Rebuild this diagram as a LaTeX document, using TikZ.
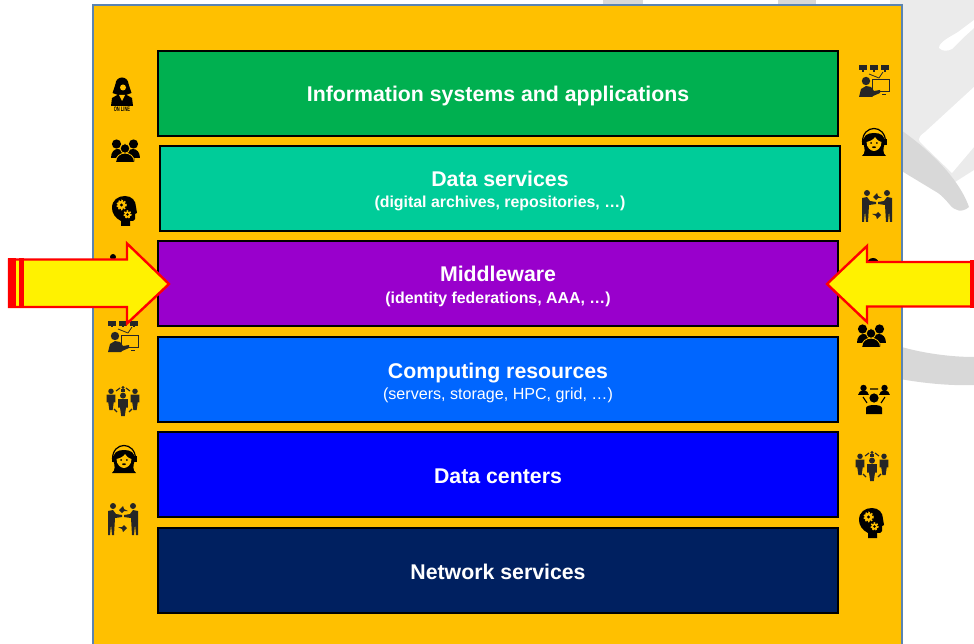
\documentclass[tikz,border=0pt]{standalone}
\usepackage{fontspec}
\setmainfont{Liberation Sans}
\definecolor{amber}{HTML}{FFC000}
\definecolor{framecol}{HTML}{5B84B1}
\definecolor{lightback}{HTML}{EBEBEB}
\definecolor{darkback}{HTML}{D8D8D8}
\definecolor{icongrey}{HTML}{262626}
\tikzset{
  layerbox/.style={draw=black,line width=1.4pt,minimum width=680pt,minimum height=85pt,inner sep=0pt},
  titletext/.style={anchor=base,inner sep=0pt,text=white,font=\fontsize{21.3}{23}\selectfont\bfseries},
  subbold/.style={anchor=base,inner sep=0pt,text=white,font=\fontsize{15.9}{18}\selectfont\bfseries},
  subplain/.style={anchor=base,inner sep=0pt,text=white,font=\fontsize{16.1}{18}\selectfont},
  arrowbox/.style={draw=red,fill=yellow,line width=2.4pt,miter limit=10},
  gear/.pic={
    \fill [amber] (0,0) circle [radius=4.2];
    \draw [amber,line width=1.5pt,dash pattern=on 1.5pt off 1.5pt] (0,0) circle [radius=4.6];
    \fill [black] (0,0) circle [radius=1.7];
  },
  online/.pic={
    \fill (0,-12) circle [radius=6.5];
    \fill (-6.5,-12) -- (-9.5,-3) -- (-4,-1) -- (4,-1) -- (9.5,-3) -- (6.5,-12) -- cycle;
    \fill [amber] (1,-8.5) circle [radius=3];
    \fill (-11,10) -- (-10,2) -- (-3,-2) -- (3,-2) -- (10,2) -- (11,10) -- cycle;
    \fill [amber] (-3,-1) -- (0,5) -- (3,-1) -- cycle;
    \node (onlinetext) at (0,13.5) [inner sep=0pt] {\scalebox{0.62}[1]{\fontsize{6.5}{6.5}\selectfont\bfseries ON LINE}};
  },
  group/.pic={
    \fill (-8.5,-7) circle [radius=4.6];
    \fill (8.5,-7) circle [radius=4.6];
    \fill (-14.5,7) .. controls (-14.5,-5) and (-1,-5) .. (-1,7) -- cycle;
    \fill (14.5,7) .. controls (14.5,-5) and (1,-5) .. (1,7) -- cycle;
    \draw [amber,line width=0.8pt,fill=black] (0,-2.5) circle [radius=4.8];
    \draw [amber,line width=0.8pt,fill=black] (-9.5,11.5) .. controls (-9.5,-1) and (9.5,-1) .. (9.5,11.5) -- cycle;
  },
  brain/.pic={
    \fill (-3,15) -- (-3,10) .. controls (-9,7) and (-12,2) .. (-12,-3)
      .. controls (-12,-11) and (-6,-15) .. (1,-15)
      .. controls (8,-15) and (12,-10) .. (12,-4) -- (13,2) -- (11,3) -- (11,8)
      .. controls (11,10) and (8,10) .. (6,10) -- (6,15) -- cycle;
    \pic at (-2.5,-6) {gear};
    \pic at (3.5,3.5) [scale=0.75] {gear};
  },
  presenter/.pic={
    \foreach \mx in {-11,0,11}{
      \fill [icongrey] (\mx-4.2,-15.5) rectangle (\mx+4.2,-10.5);
      \fill [icongrey] (\mx-1,-10.5) rectangle (\mx+1,-9);
    }
    \draw [icongrey,line width=0.8pt] (-5,-7) -- (5,-3) -- (9,-9);
    \fill [icongrey] (-8,0) circle [radius=4.2];
    \fill [icongrey] (-15,16) -- (-13,8) -- (-8,5) -- (-3,6) -- (0,10) -- (6,9) -- (6,12) -- (-1,15) -- (-2,16) -- cycle;
    \draw [icongrey,line width=1pt] (-2,-1) rectangle (15,11);
    \draw [icongrey,line width=1pt] (8,14) -- (12,14);
  },
  figure/.pic={
    \fill [icongrey] (0,-7) circle [radius=2.5];
    \fill [icongrey] (-4,-4) -- (4,-4) -- (4,3) -- (2.5,3) -- (1.5,10) -- (-1.5,10) -- (-2.5,3) -- (-4,3) -- cycle;
  },
  network/.pic={
    \pic at (-12,-2) [scale=1.1] {figure};
    \pic at (12,-2) [scale=1.1] {figure};
    \pic at (0,3) [scale=1.2] {figure};
    \fill [icongrey] (0,-13.5) circle [radius=1.7];
    \fill [icongrey] (-2,-12) rectangle (2,-9);
    \draw [icongrey,line width=1.1pt] (-7,-10) -- (-3,-13) (7,-10) -- (3,-13) (-9,8) -- (-6,11) (9,8) -- (6,11);
  },
  headset/.pic={
    \fill (-12,14) .. controls (-8,11) and (-9.5,6) .. (-10.5,2)
      .. controls (-12,-7) and (-6,-9) .. (0,-9)
      .. controls (6,-9) and (12,-7) .. (10.5,2)
      .. controls (9.5,6) and (8,11) .. (12,14) -- cycle;
    \draw [line width=1.2pt] (-11.5,0) .. controls (-11.5,-18) and (11.5,-18) .. (11.5,0);
    \fill (-12.5,-3) rectangle (-9.5,3);
    \fill (12.5,-3) rectangle (9.5,3);
    \fill [amber] (-7.5,0) .. controls (-3,-1) and (0,-3) .. (1,-5) .. controls (2,-3) and (4,-1) .. (7.5,0)
      .. controls (7.5,6) and (3,9) .. (0,9) .. controls (-3,9) and (-7.5,6) .. (-7.5,0) -- cycle;
    \fill (-2.8,1) circle [radius=1];
    \fill (2.8,1) circle [radius=1];
    \fill (0,5.2) ellipse [x radius=2,y radius=0.9];
  },
  shake/.pic={
    \fill [icongrey] (-10,-13) circle [radius=3];
    \fill [icongrey] (10,-13) circle [radius=3];
    \fill [icongrey] (-15,-8) -- (-10,-9) -- (-7,-5) -- (-1,-4) -- (-1,-2) -- (-8,-1) -- (-9,16) -- (-11,16) -- (-12,5) -- (-13,16) -- (-15,16) -- cycle;
    \fill [icongrey] (15,-8) -- (10,-9) -- (7,-5) -- (1,-4) -- (1,-2) -- (8,-1) -- (9,16) -- (11,16) -- (12,5) -- (13,16) -- (15,16) -- cycle;
    \fill [icongrey] (-4,-9) -- (0,-13) -- (1,-10) -- (5,-8) -- (1,-8) -- (-1,-6) -- cycle;
    \fill [icongrey] (4,9) -- (0,13) -- (-1,10) -- (-5,8) -- (-1,8) -- (1,6) -- cycle;
  },
  meeting/.pic={
    \fill (-10.5,-11) circle [radius=3.2];
    \fill (10.5,-11) circle [radius=3.2];
    \fill (-16,-4) .. controls (-16,-10) and (-5,-10) .. (-5,-4) -- cycle;
    \fill (16,-4) .. controls (16,-10) and (5,-10) .. (5,-4) -- cycle;
    \draw [line width=1.1pt] (-4,-10) -- (4,-10) (-11,-2) -- (-7,4) (11,-2) -- (7,4);
    \fill (0,-1) circle [radius=4.6];
    \fill (-8,15) -- (-8,9) .. controls (-8,5) and (8,5) .. (8,9) -- (8,15) -- cycle;
  },
}
\begin{document}
\begin{tikzpicture}[x=1pt,y=-1pt]
\clip (0,0) rectangle (974,644);
% back picture
\fill [darkback] (603,0) rectangle (643,8);
\fill [darkback] (778,0) rectangle (816,8);
\fill [lightback] (890,0) -- (974,0) -- (974,170) -- (955,182) -- (890,125) -- cycle;
\fill [white] (919,139) .. controls (919,137) and (921,135) .. (925,132) -- (974,87) -- (974,147) -- (952,173) -- (921,143) .. controls (920,142) and (919,141) .. (919,139) -- cycle;
\fill [white] (974,20) -- (958,32) .. controls (950,37) and (939,42) .. (939,48) .. controls (943,52) and (948,51) .. (952,49) -- (963,38) -- (974,28) -- cycle;
\fill [darkback] (895,126) .. controls (925,146) and (958,176) .. (969,207) .. controls (962,213) and (955,211) .. (950,205) .. controls (945,199) and (942,196) .. (938,193) -- (895,167) -- cycle;
\fill [darkback] (895,345) .. controls (920,353) and (950,357) .. (974,357) -- (974,385) .. controls (950,386) and (920,383) .. (895,378) -- cycle;
% frame
\draw [framecol,fill=amber,line width=2pt] (93,5.5) rectangle (902,660);
% layers
\node (info) at (498,93.5) [layerbox,fill={rgb,255:red,0;green,176;blue,80}] {};
\node (dataserv) at (500,188.5) [layerbox,fill={rgb,255:red,0;green,204;blue,153}] {};
\node (middle) at (498,283.5) [layerbox,fill={rgb,255:red,153;green,0;blue,204}] {};
\node (comp) at (498,379.5) [layerbox,fill={rgb,255:red,0;green,102;blue,255}] {};
\node (centers) at (498,474.5) [layerbox,fill={rgb,255:red,0;green,0;blue,255}] {};
\node (netserv) at (498,570.5) [layerbox,fill={rgb,255:red,0;green,32;blue,96}] {};
\node (infotitle) at (498,102) [titletext] {Information systems and applications};
\node (datatitle) at (500,187) [titletext] {Data services};
\node (datasub) at (500,208) [subbold] {(digital archives, repositories, …)};
\node (midtitle) at (498,282) [titletext] {Middleware};
\node (midsub) at (498,303) [subbold] {(identity federations, AAA, …)};
\node (comptitle) at (498,378) [titletext] {Computing resources};
\node (compsub) at (498,399) [subplain] {(servers, storage, HPC, grid, …)};
\node (centertitle) at (498,483) [titletext] {Data centers};
\node (nettitle) at (498,579) [titletext] {Network services};
% left icons
\pic at (122,96) {online};
\pic at (125,151) {group};
\pic at (124,211) {brain};
\fill (113,257) circle [radius=3];
\pic at (123,336) {presenter};
\pic at (123,401) {network};
\pic at (124,459) {headset};
\pic at (123,519) {shake};
% right icons
\pic at (874,81) {presenter};
\pic at (874,142) {headset};
\pic at (877,206) {shake};
\fill (873,264) circle [radius=6];
\pic at (871,336) {group};
\pic at (874,399) {meeting};
\pic at (872,466) {network};
\pic at (871,523) {brain};
% arrows
\draw [arrowbox] (9,259.5) -- (127,259.5) -- (127,243.5) -- (169,284) -- (127,323.5) -- (127,307) -- (9,307) -- cycle;
\fill [red] (8,258) rectangle (16,308);
\fill [red] (19,258) rectangle (24,308);
\draw [arrowbox] (972,262) -- (867,262) -- (867,246) -- (827,284) -- (867,322) -- (867,306.5) -- (972,306.5) -- cycle;
\fill [red] (970,260) rectangle (974,308);
\end{tikzpicture}
\end{document}
